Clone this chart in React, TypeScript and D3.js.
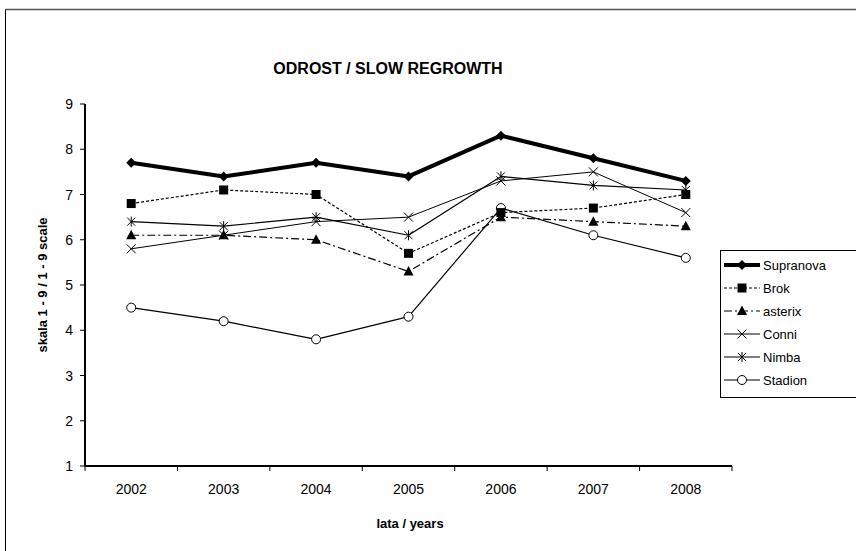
import * as d3 from 'd3';

const years = ['2002', '2003', '2004', '2005', '2006', '2007', '2008'];
const yTicks = [1, 2, 3, 4, 5, 6, 7, 8, 9];

const supranova = [7.7, 7.4, 7.7, 7.4, 8.3, 7.8, 7.3];
const brok = [6.8, 7.1, 7.0, 5.7, 6.6, 6.7, 7.0];
const asterix = [6.1, 6.1, 6.0, 5.3, 6.5, 6.4, 6.3];
const conni = [5.8, 6.1, 6.4, 6.5, 7.3, 7.5, 6.6];
const nimba = [6.4, 6.3, 6.5, 6.1, 7.4, 7.2, 7.1];
const stadion = [4.5, 4.2, 3.8, 4.3, 6.7, 6.1, 5.6];

type Marker = 'diamond' | 'square' | 'triangle' | 'x' | 'star' | 'circle';

const series: { name: string; values: number[]; width: number; dash?: string; marker: Marker }[] = [
    { name: 'Supranova', values: supranova, width: 4, marker: 'diamond' },
    { name: 'Brok', values: brok, width: 1.2, dash: '3,2', marker: 'square' },
    { name: 'asterix', values: asterix, width: 1.2, dash: '8,3,2,3', marker: 'triangle' },
    { name: 'Conni', values: conni, width: 1, marker: 'x' },
    { name: 'Nimba', values: nimba, width: 1.2, marker: 'star' },
    { name: 'Stadion', values: stadion, width: 1.2, marker: 'circle' },
];

const W = 856;
const H = 551;
const left = 85, right = 732, top = 104, bottom = 466;
const font = 'Liberation Sans, Arial, sans-serif';

function MarkerShape({ type, cx, cy }: { type: Marker; cx: number; cy: number }) {
    switch (type) {
        case 'diamond':
            return <path d={`M${cx},${cy - 5}L${cx + 5},${cy}L${cx},${cy + 5}L${cx - 5},${cy}Z`} fill="#000" />;
        case 'square':
            return <rect x={cx - 4.5} y={cy - 4.5} width={9} height={9} fill="#000" />;
        case 'triangle':
            return <path d={`M${cx},${cy - 5.5}L${cx + 5},${cy + 4}L${cx - 5},${cy + 4}Z`} fill="#000" />;
        case 'x':
            return <path d={`M${cx - 4.5},${cy - 4.5}L${cx + 4.5},${cy + 4.5}M${cx - 4.5},${cy + 4.5}L${cx + 4.5},${cy - 4.5}`} stroke="#000" strokeWidth={1} />;
        case 'star':
            return <path d={`M${cx - 4},${cy - 4}L${cx + 4},${cy + 4}M${cx - 4},${cy + 4}L${cx + 4},${cy - 4}M${cx},${cy - 5}L${cx},${cy + 5}`} stroke="#000" strokeWidth={1} />;
        case 'circle':
            return <circle cx={cx} cy={cy} r={4.5} fill="#fff" stroke="#000" strokeWidth={1} />;
    }
}

function Chart() {
    const x = d3.scaleBand<string>().domain(years).range([left, right]);
    const y = d3.scaleLinear().domain([1, 9]).range([bottom, top]);
    const line = d3.line<number>((d, i) => (x(years[i]) ?? 0) + x.bandwidth() / 2, (d) => y(d));
    const boundaries = years.map((yr) => x(yr) ?? 0).concat(right);

    const legX = 720, legY = 250, legRow = 23;

    return (
        <svg width={W} height={H} style={{ position: 'absolute', left: 0, top: 0 }} fontFamily={font}>
            <rect x={0} y={0} width={W} height={H} fill="#fff" />
            <line x1={5.5} y1={9.5} x2={W} y2={9.5} stroke="#555" strokeWidth={1.5} />
            <line x1={5.5} y1={9.5} x2={5.5} y2={H} stroke="#000" strokeWidth={1} />

            <text x={388} y={74} textAnchor="middle" fontWeight="bold" fontSize={16}>ODROST / SLOW REGROWTH</text>

            {/* y axis */}
            <line x1={left} y1={top} x2={left} y2={bottom} stroke="#000" strokeWidth={2} />
            {yTicks.map((t) => (
                <g key={t}>
                    <line x1={left - 5} x2={left} y1={y(t)} y2={y(t)} stroke="#000" strokeWidth={1} />
                    <text x={left - 12} y={y(t) + 5} textAnchor="end" fontSize={14}>{t}</text>
                </g>
            ))}
            <text transform={`translate(47,${(top + bottom) / 2}) rotate(-90)`} textAnchor="middle" fontWeight="bold" fontSize={13}>
                skala 1 - 9 / 1 - 9 scale
            </text>

            {/* x axis */}
            <line x1={left} y1={bottom} x2={right} y2={bottom} stroke="#000" strokeWidth={2} />
            {boundaries.map((bx, i) => (
                <line key={i} x1={bx} x2={bx} y1={bottom} y2={bottom + 5} stroke="#000" strokeWidth={1} />
            ))}
            {years.map((yr) => (
                <text key={yr} x={(x(yr) ?? 0) + x.bandwidth() / 2} y={494} textAnchor="middle" fontSize={14}>{yr}</text>
            ))}
            <text x={410} y={528} textAnchor="middle" fontWeight="bold" fontSize={13}>lata / years</text>

            {/* series */}
            {series.slice().reverse().map((s) => (
                <g key={s.name}>
                    <path d={line(s.values) ?? undefined} fill="none" stroke="#000" strokeWidth={s.width} strokeDasharray={s.dash} strokeLinejoin="round" />
                    {s.values.map((v, i) => (
                        <MarkerShape key={i} type={s.marker} cx={(x(years[i]) ?? 0) + x.bandwidth() / 2} cy={y(v)} />
                    ))}
                </g>
            ))}

            {/* legend */}
            <rect x={legX + 0.5} y={legY + 0.5} width={W} height={147} fill="#fff" stroke="#000" strokeWidth={1} />
            {series.map((s, i) => {
                const cy = legY + 15 + i * legRow;
                return (
                    <g key={s.name}>
                        <line x1={legX + 4} x2={legX + 40} y1={cy} y2={cy} stroke="#000" strokeWidth={s.width} strokeDasharray={s.dash} />
                        <MarkerShape type={s.marker} cx={legX + 22} cy={cy} />
                        <text x={legX + 43} y={cy + 5} fontSize={13}>{s.name}</text>
                    </g>
                );
            })}
        </svg>
    );
}

export default function App() {
    return <Chart />;
}
